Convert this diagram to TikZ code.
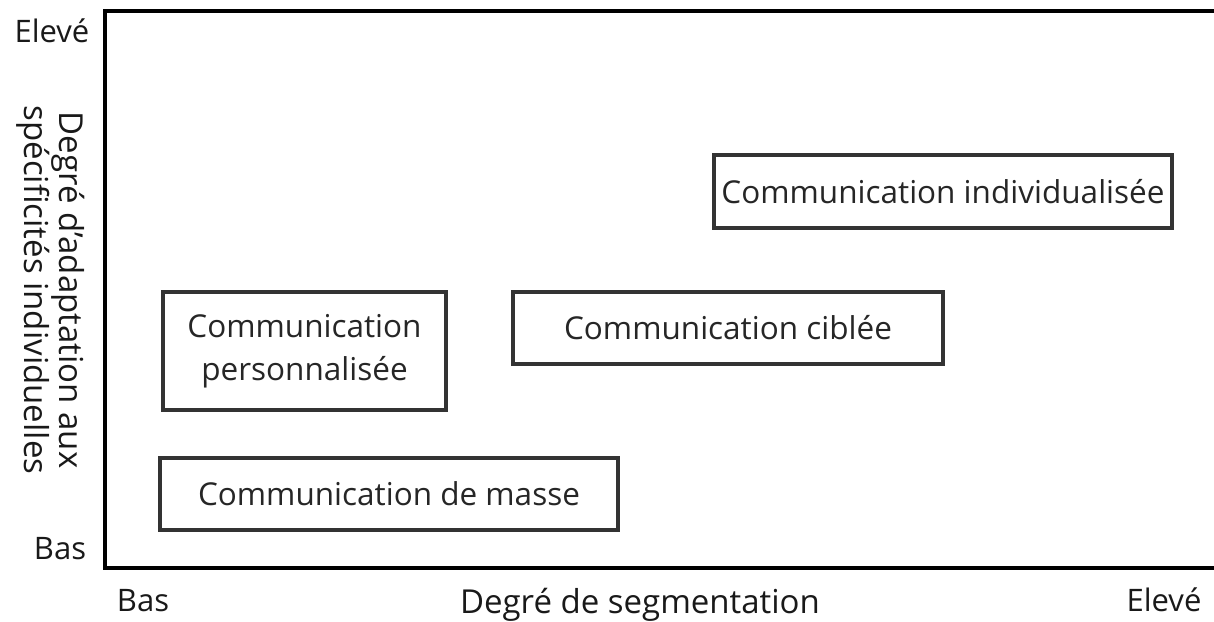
\documentclass[tikz,border=0pt]{standalone}
\usepackage{fontspec}
\setmainfont{Open Sans}
\begin{document}
\begin{tikzpicture}[x=1pt,y=-1pt,
  box/.style={draw=black!80,line width=3.2pt,inner sep=0pt,align=center,text=black!85,font=\fontsize{31.5}{43}\selectfont},
  lbl/.style={font=\fontsize{31}{36}\selectfont,inner sep=0pt,text=black!90},
  axis/.style={line width=3.2pt,black}]
\useasboundingbox (0,0) rectangle (1214,621);
\coordinate (tl) at (105,11);
\coordinate (tr) at (1214,11);
\coordinate (bl) at (105,568);
\coordinate (br) at (1214,568);
\draw[axis] (tr) -- (tl) -- (bl) -- (br);
\node[box,minimum width=458pt,minimum height=73pt] (ind) at (943,191.5) {Communication individualisée};
\node[box,minimum width=283pt,minimum height=118pt] (pers) at (304.5,351) {Communication\\personnalisée};
\node[box,minimum width=430pt,minimum height=72pt] (cib) at (728,328) {Communication ciblée};
\node[box,minimum width=458pt,minimum height=72pt] (mas) at (389,494) {Communication de masse};
\node[lbl] (yhi) at (52,31) {Elevé};
\node[lbl] (ylo) at (60,549) {Bas};
\node[lbl] (xlo) at (143,601) {Bas};
\node[lbl] (xhi) at (1164,600) {Elevé};
\node[lbl,font=\fontsize{33}{38}\selectfont] (xlab) at (640,605) {Degré de segmentation};
\node[lbl,rotate=-90,align=center,font=\fontsize{33}{35}\selectfont] (ylab) at (51,290) {Degré d'adaptation aux\\spécificités individuelles};
\end{tikzpicture}
\end{document}
